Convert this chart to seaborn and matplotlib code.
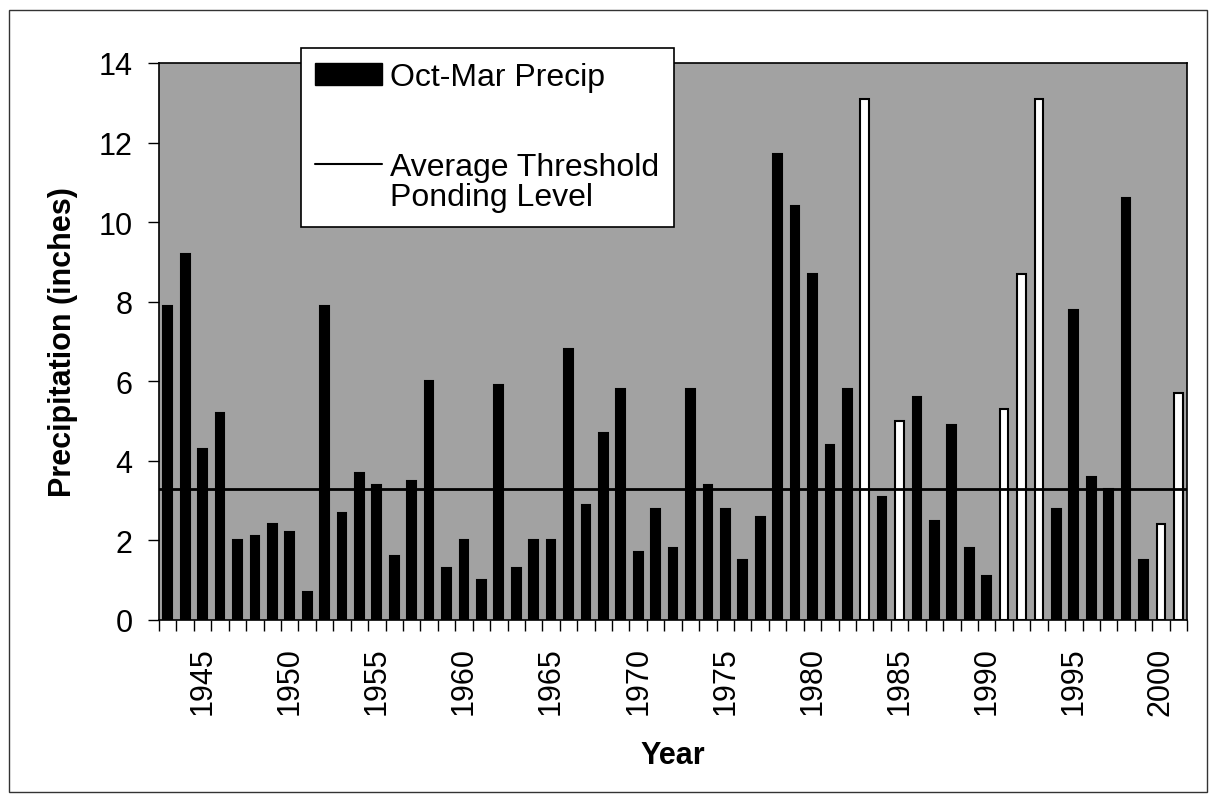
import pandas as pd
import numpy as np
import matplotlib
matplotlib.use('Agg')
import matplotlib.pyplot as plt
import seaborn as sns
from matplotlib.patches import Patch, Rectangle
from matplotlib.lines import Line2D

sns.set_theme(style='ticks')
plt.rcParams['font.family'] = ['Liberation Sans', 'DejaVu Sans']
plt.rcParams['text.color'] = 'black'
plt.rcParams['axes.labelcolor'] = 'black'
plt.rcParams['xtick.color'] = 'black'
plt.rcParams['ytick.color'] = 'black'

# 数据
years = list(range(1943, 2002))
precip = [7.9, 9.2, 4.3, 5.2, 2.0, 2.1, 2.4, 2.2, 0.7, 7.9,
          2.7, 3.7, 3.4, 1.6, 3.5, 6.0, 1.3, 2.0, 1.0, 5.9,
          1.3, 2.0, 2.0, 6.8, 2.9, 4.7, 5.8, 1.7, 2.8, 1.8,
          5.8, 3.4, 2.8, 1.5, 2.6, 11.7, 10.4, 8.7, 4.4, 5.8,
          13.1, 3.1, 5.0, 5.6, 2.5, 4.9, 1.8, 1.1, 5.3, 8.7,
          13.1, 2.8, 7.8, 3.6, 3.3, 10.6, 1.5, 2.4, 5.7]
white_years = [1983, 1985, 1991, 1992, 1993, 2000, 2001]
threshold = 3.3
label_years = list(range(1945, 2001, 5))

df = pd.DataFrame({'Year': years, 'Precip': precip})
pal = {y: ('white' if y in white_years else 'black') for y in years}

fig = plt.figure(figsize=(12.16, 8.03), dpi=100)
ax = fig.add_axes([0.1308, 0.2267, 0.8454, 0.6936])
sns.barplot(data=df, x='Year', y='Precip', hue='Year', palette=pal, legend=False,
            edgecolor='black', linewidth=1.5, width=0.5, saturation=1, ax=ax)
ax.axhline(threshold, color='black', lw=2)

ax.set_facecolor('#a2a2a2')
ax.set_xlim(-0.5, len(years) - 0.5)
ax.set_ylim(0, 14)
ax.set_yticks(range(0, 15, 2))
ax.tick_params(axis='y', labelsize=22, length=8, width=1, pad=11)

# x轴: 刻度在类别之间, 每5年一个标签
pos = [years.index(y) for y in label_years]
ax.set_xticks(pos)
ax.set_xticklabels([str(y) for y in label_years], rotation=90, fontsize=22)
ax.tick_params(axis='x', length=0, pad=19)
ax.set_xticks(np.arange(-0.5, len(years), 1), minor=True)
ax.tick_params(axis='x', which='minor', length=8, width=1)

ax.set_xlabel('Year', fontsize=22, fontweight='bold', labelpad=18)
ax.set_ylabel('Precipitation (inches)', fontsize=22, fontweight='bold', labelpad=15)
for s in ax.spines.values():
    s.set_color('black')
    s.set_linewidth(1.2)

# 图例 (空行用来拉开两项的距离)
blank = Line2D([], [], lw=0)
handles = [Patch(facecolor='black', edgecolor='black'), blank, blank,
           Line2D([0], [0], color='black', lw=1.5), blank]
labels = ['Oct-Mar Precip', ' ', ' ', 'Average Threshold', 'Ponding Level']
leg = ax.legend(handles, labels, loc='upper left', bbox_to_anchor=(0.138, 1.027),
                borderaxespad=0, fontsize=23, frameon=True, fancybox=False,
                framealpha=1, edgecolor='black', handlelength=2.1,
                handletextpad=0.25, labelspacing=0.0, borderpad=0.45)
leg.get_frame().set_linewidth(1.2)

# 外框
fig.patches.append(Rectangle((0.007, 0.012), 0.986, 0.974, transform=fig.transFigure,
                             fill=False, edgecolor='#333333', lw=1))

fig.savefig('out.png', dpi=100)
